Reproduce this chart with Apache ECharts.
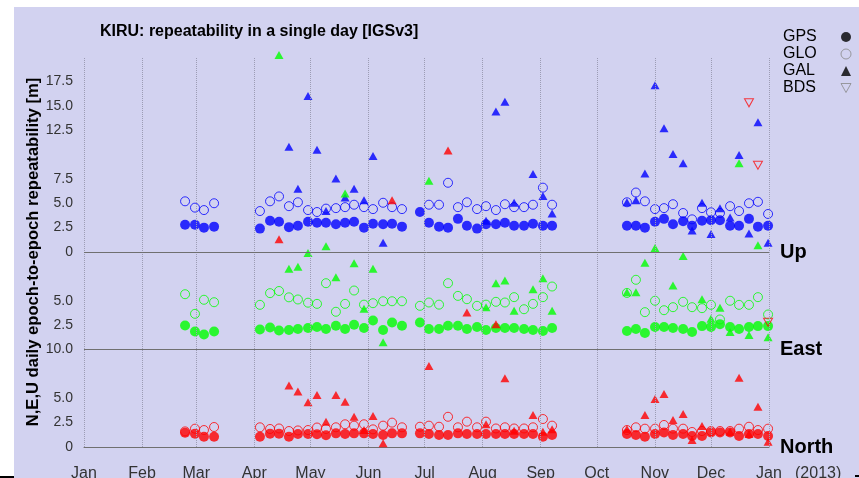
<!DOCTYPE html>
<html>
<head>
<meta charset="utf-8">
<title>KIRU repeatability</title>
<script src="https://cdn.jsdelivr.net/npm/echarts@6/dist/echarts.min.js"></script>
<style>
body { margin: 0; background: #fff; }
#bg { position: absolute; left: 14px; top: 7px; width: 845px; height: 471px; background: #d2d2f0; }
#main { position: absolute; left: 0; top: 0; width: 859px; height: 478px; }
.mark { position: absolute; background: #000; height: 2px; }
</style>
</head>
<body>
<div id="bg"></div>
<div class="mark" style="left:0;top:476px;width:14px;"></div>
<div class="mark" style="left:855px;top:475px;width:4px;"></div>
<div id="main"></div>
<script>
// sample days, day of year 2012 (0 = 1 Jan)
var days = [54.0, 59.3, 64.1, 69.5,
  94.0, 99.4, 104.2, 109.5, 114.3, 119.7, 124.5, 129.3, 134.6, 139.5, 144.3, 149.6, 154.4, 159.8, 164.6, 169.9,
  179.5, 184.3, 189.7, 194.5, 199.8, 204.6, 210.0, 214.8, 220.1, 224.9, 229.8, 235.1, 239.9, 245.2, 250.1,
  290.1, 294.9, 299.7, 305.1, 309.9, 314.7, 320.1, 324.9, 330.2, 335.0, 339.8, 345.2, 350.0, 355.3, 360.1, 365.5];

// x axis ticks
var monthDays = [0, 31, 60, 91, 121, 152, 182, 213, 244, 274, 305, 335, 366];
var monthNames = ['Jan', 'Feb', 'Mar', 'Apr', 'May', 'Jun', 'Jul', 'Aug', 'Sep', 'Oct', 'Nov', 'Dec', 'Jan'];

// y axis ticks (panels stacked: North 0-10, East 10-20, Up 20-40)
var yTickPos = [0, 2.5, 5, 10, 12.5, 15, 20, 22.5, 25, 27.5, 32.5, 35, 37.5];
var yTickText = ['0', '2.5', '5.0', '10.0', '2.5', '5.0', '0', '2.5', '5.0', '7.5', '12.5', '15.0', '17.5'];
var panelPos = [0, 10, 20];
var panelNames = ['North', 'East', 'Up'];

// Up [m]
var upGPS = [2.8, 2.8, 2.5, 2.6,
  2.4, 3.2, 3.1, 2.55, 2.7, 3.1, 3.0, 3.0, 2.85, 3.0, 3.1, 2.5, 2.9, 2.85, 2.9, 2.6,
  4.1, 3.0, 2.6, 2.5, 3.4, 2.7, 2.4, 2.85, 2.85, 3.0, 2.7, 2.7, 2.9, 2.7, 2.7,
  2.7, 2.7, 2.5, 3.1, 3.4, 2.85, 3.15, 2.7, 3.2, 3.25, 3.25, 2.7, 2.7, 3.4, 2.6, 2.7];
var upGLO = [5.2, 4.55, 4.3, 5.0,
  4.2, 5.2, 5.7, 4.7, 5.1, 4.3, 4.1, 4.45, 4.5, 4.6, 4.85, 4.6, 4.4, 5.05, 4.6, 4.4,
  null, 4.85, 4.85, 7.1, 4.6, 5.1, 4.4, 4.7, 4.3, 4.9, 4.6, 4.6, 4.85, 6.6, 4.85,
  5.1, 6.1, 5.2, 4.4, 4.5, 4.9, 4.0, 3.35, 4.5, 4.07, 4.0, 4.7, 4.2, 5.0, 5.15, 3.9];
var upGAL = [null, null, null, null,
  null, null, null, 10.8, 6.5, 16.0, 10.5, 4.2, 7.55, 5.6, 6.5, 5.3, 9.85, 0.95, null, null,
  null, null, null, null, null, null, null, 3.2, 14.4, 15.4, 5.05, null, 8.0, 5.75, 3.95,
  5.1, 5.3, 8.05, 17.1, 12.7, 10.05, 9.1, 2.2, 5.05, 1.85, 4.5, 3.55, 9.95, 1.9, 13.3, 0.95];
var upBDS = [];

// East [m]
var eastGPS = [2.46, 1.85, 1.54, 1.85,
  2.05, 2.26, 1.95, 2.0, 2.1, 2.2, 2.3, 2.1, 2.43, 2.1, 2.53, 2.2, 2.97, 2.0, 2.77, 2.43,
  2.77, 2.1, 2.1, 2.43, 2.43, 2.1, 2.3, 2.0, 2.2, 2.2, 2.2, 2.1, 2.0, 1.9, 2.2,
  1.9, 2.1, 1.7, 2.3, 2.3, 2.2, 2.1, 1.8, 2.4, 2.3, 2.6, 2.3, 2.1, 2.3, 2.4, 2.4];
var eastGLO = [5.67, 3.66, 5.1, 4.85,
  4.58, 5.78, 6.0, 5.35, 5.13, 4.8, 4.68, 6.8, 3.87, 4.68, 6.05, 4.6, 4.75, 4.95, 4.95, 4.95,
  4.48, 4.82, 4.6, 6.8, 5.5, 5.16, 4.48, 4.6, 4.89, 4.82, 5.37, 4.13, 4.68, 5.37, 6.46,
  5.8, 7.15, 3.83, 5.0, 4.03, 4.34, 4.89, 4.34, 4.24, 4.58, 3.08, 5.0, 4.58, 4.58, 5.37, 3.59];
var eastGAL = [null, null, null, null,
  null, null, 30.2, 8.28, 8.5, 9.9, null, 10.6, 7.4, 16.0, 8.85, 4.17, 8.28, 0.75, null, null,
  null, 17.3, null, null, null, null, null, 4.34, 6.8, 7.08, 3.97, null, 6.18, 7.3, 3.97,
  5.88, 5.88, 8.9, 10.4, null, 6.56, 9.6, null, 5.16, 3.15, 4.28, 1.8, 19.1, 1.5, 10.7, 1.26];
var eastBDS = [];

// North [m]
var northGPS = [1.47, 1.37, 1.06, 1.06,
  1.06, 1.37, 1.37, 1.06, 1.33, 1.33, 1.3, 1.2, 1.4, 1.33, 1.4, 1.4, 1.33, 1.23, 1.4, 1.4,
  1.4, 1.33, 1.23, 1.23, 1.4, 1.33, 1.33, 1.33, 1.33, 1.33, 1.33, 1.33, 1.33, 1.06, 1.23,
  1.33, 1.23, 1.06, 1.33, 1.5, 1.23, 1.33, 1.13, 1.13, 1.5, 1.5, 1.5, 1.13, 1.33, 1.33, 1.13];
var northGLO = [1.6, 1.88, 1.74, 2.05,
  2.02, 1.85, 1.9, 1.64, 1.7, 1.74, 2.0, 1.85, 2.02, 2.33, 2.19, 2.33, 1.81, 2.19, 2.5, 2.02,
  2.08, 2.19, 2.08, 3.1, 2.02, 2.6, 2.02, 2.6, 1.9, 2.02, 1.9, 1.9, 2.02, 2.87, 2.19,
  1.74, 2.02, 1.88, 1.88, 2.26, 1.88, 1.88, 1.54, 1.64, 1.64, 1.64, 1.64, 1.88, 2.08, 1.74, 1.88];
var northGAL = [null, null, null, null,
  null, null, 21.3, 6.3, 5.7, 4.58, 5.33, 2.6, 5.33, 4.65, 3.1, 1.74, 3.18, 0.38, 25.3, null,
  null, 8.3, null, 30.4, null, 13.8, null, 2.33, 12.6, 7.05, 1.67, null, 3.28, 1.57, 1.81,
  1.81, null, 3.28, 4.92, 5.43, 2.77, 3.38, 0.72, 2.15, null, null, 1.57, 7.1, 1.33, 4.13, 0.55];
var northBDS = [null, null, null, null,
  null, null, null, null, null, null, null, null, null, null, null, null, null, null, null, null,
  null, null, null, null, null, null, null, null, null, null, null, null, null, null, null,
  null, null, null, null, null, null, null, null, null, null, null, null, null, 35.3, 28.9, 12.8];

var FONT = 'Liberation Sans, Arial, Helvetica, sans-serif';

var panels = [
  { name: 'Up', offset: 20, color: '#0000ff', gps: upGPS, glo: upGLO, gal: upGAL, bds: upBDS },
  { name: 'East', offset: 10, color: '#00ff00', gps: eastGPS, glo: eastGLO, gal: eastGAL, bds: eastBDS },
  { name: 'North', offset: 0, color: '#ff0000', gps: northGPS, glo: northGLO, gal: northGAL, bds: northBDS }
];

function toPoints(vals, offset) {
  var out = [];
  for (var i = 0; i < vals.length; i++) {
    if (vals[i] != null) out.push([days[i], vals[i] + offset]);
  }
  return out;
}

var series = [];

// grid lines: dotted month lines + solid panel separators
var gridLines = monthDays.map(function (d) {
  return { xAxis: d, lineStyle: { type: 'dotted', color: '#9c9cb4', width: 1 } };
});
gridLines.push({ yAxis: 10, lineStyle: { type: 'solid', color: '#707070', width: 1 } });
gridLines.push({ yAxis: 20, lineStyle: { type: 'solid', color: '#707070', width: 1 } });
series.push({
  name: 'grid', type: 'scatter', data: [], z: 1, silent: true,
  markLine: { silent: true, symbol: 'none', label: { show: false }, data: gridLines, animation: false }
});

panels.forEach(function (p) {
  series.push({
    name: p.name + ' GLO', type: 'scatter', symbol: 'circle', symbolSize: 9, clip: false,
    itemStyle: { color: 'transparent', borderColor: p.color, borderWidth: 1 },
    data: toPoints(p.glo, p.offset)
  });
  series.push({
    name: p.name + ' GPS', type: 'scatter', symbol: 'circle', symbolSize: 10, clip: false,
    itemStyle: { color: p.color },
    data: toPoints(p.gps, p.offset)
  });
  series.push({
    name: p.name + ' GAL', type: 'scatter', symbol: 'triangle', symbolSize: [9, 8], clip: false,
    itemStyle: { color: p.color },
    data: toPoints(p.gal, p.offset)
  });
  series.push({
    name: p.name + ' BDS', type: 'scatter', symbol: 'triangle', symbolRotate: 180, symbolSize: [9, 8], clip: false,
    itemStyle: { color: 'transparent', borderColor: p.color, borderWidth: 1, opacity: 0.75 },
    data: toPoints(p.bds, p.offset)
  });
});

// legend-only series
['GPS', 'GLO', 'GAL', 'BDS'].forEach(function (n) {
  series.push({ name: n, type: 'scatter', data: [] });
});

var myChart = echarts.init(document.getElementById('main'), null, { renderer: 'canvas' });

var option = {
  animation: false,
  backgroundColor: 'transparent',
  textStyle: { fontFamily: FONT },
  title: {
    text: 'KIRU: repeatability in a single day [IGSv3]',
    left: 100, top: 24, padding: 0,
    textStyle: { fontSize: 16, fontWeight: 'bold', color: '#000', fontFamily: FONT }
  },
  legend: {
    orient: 'vertical', left: 778, top: 24, align: 'right',
    itemWidth: 10, itemHeight: 10, itemGap: 1, selectedMode: false,
    formatter: function (n) { return '{t|' + n + '}'; },
    textStyle: {
      color: '#000', fontSize: 16, fontFamily: FONT,
      rich: { t: { width: 53, align: 'left', fontSize: 16, color: '#000', fontFamily: FONT } }
    },
    data: [
      { name: 'GPS', icon: 'circle', itemStyle: { color: '#000' } },
      { name: 'GLO', icon: 'circle', itemStyle: { color: 'transparent', borderColor: '#888', borderWidth: 1 } },
      { name: 'GAL', icon: 'triangle', itemStyle: { color: '#000' } },
      { name: 'BDS', icon: 'path://M0,0 L10,0 L5,9 Z', itemStyle: { color: 'transparent', borderColor: '#888', borderWidth: 1 } }
    ]
  },
  grid: { left: 84, right: 90, top: 57, bottom: 31, containLabel: false, outerBoundsMode: 'none' },
  xAxis: {
    type: 'value', min: 0, max: 366,
    axisLine: { show: true, lineStyle: { color: '#707070', width: 1 } },
    axisTick: { show: false },
    splitLine: { show: false },
    axisLabel: {
      customValues: monthDays,
      margin: 19, fontSize: 16, color: '#333', fontFamily: FONT,
      formatter: function (v) {
        var i = monthDays.indexOf(v);
        return i >= 0 ? monthNames[i] : '';
      }
    }
  },
  yAxis: [{
    type: 'value', min: 0, max: 40,
    name: 'N,E,U daily epoch-to-epoch repeatability [m]',
    nameLocation: 'middle', nameGap: 42, nameMoveOverlap: false,
    nameTextStyle: { fontSize: 16.6, fontWeight: 'bold', color: '#000', fontFamily: FONT },
    axisLine: { show: false }, axisTick: { show: false }, splitLine: { show: false },
    axisLabel: {
      customValues: yTickPos,
      margin: 11, fontSize: 14, color: '#333', fontFamily: FONT,
      formatter: function (v) {
        var i = yTickPos.indexOf(v);
        return i >= 0 ? yTickText[i] : '';
      }
    }
  }, {
    type: 'value', min: 0, max: 40, position: 'right',
    axisLine: { show: false }, axisTick: { show: false }, splitLine: { show: false },
    axisLabel: {
      customValues: panelPos,
      margin: 11, fontSize: 20, fontWeight: 'bold', color: '#000', fontFamily: FONT,
      formatter: function (v) {
        var i = panelPos.indexOf(v);
        return i >= 0 ? panelNames[i] : '';
      }
    }
  }],
  graphic: [{
    type: 'text', left: 795, top: 466,
    style: { text: '(2013)', font: '16px ' + FONT, fill: '#333' }
  }],
  series: series
};

myChart.setOption(option);
</script>
</body>
</html>
